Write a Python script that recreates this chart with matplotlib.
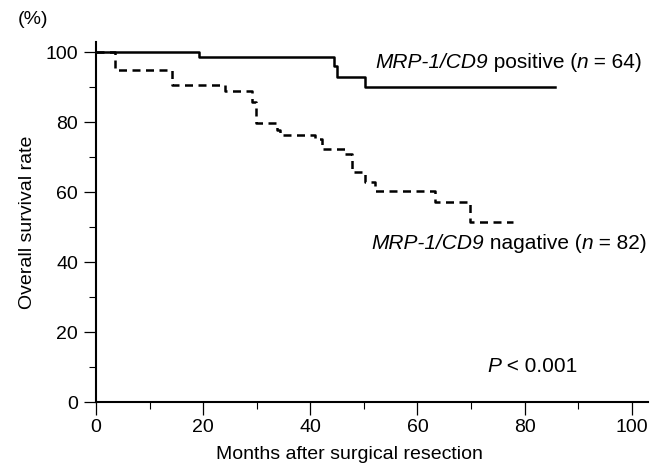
import matplotlib
matplotlib.use("Agg")
import matplotlib.pyplot as plt
from matplotlib.ticker import MultipleLocator
from matplotlib import font_manager as fm
from matplotlib.transforms import offset_copy

# --- data ---
pos_months = [0, 19.3, 44.4, 44.9, 50.3, 85.6]
pos_surv   = [100, 98.6, 96.0, 93.0, 90.0, 90.0]

neg_months = [0, 3.5, 14.1, 24.1, 29.2, 29.9, 33.7, 34.3, 40.9, 42.1,
              46.5, 47.7, 50.3, 52.0, 63.2, 69.9, 77.9]
neg_surv   = [100, 95.0, 90.5, 88.8, 85.8, 79.6, 77.7, 76.2, 75.2, 72.3,
              71.0, 65.8, 62.9, 60.4, 57.1, 51.5, 51.5]

x_ticks = [0, 20, 40, 60, 80, 100]
y_ticks = [0, 20, 40, 60, 80, 100]

names = {f.name for f in fm.fontManager.ttflist}
family = "Liberation Sans" if "Liberation Sans" in names else "DejaVu Sans"
plt.rcParams['font.family'] = [family, 'DejaVu Sans']

fig = plt.figure(figsize=(6.53, 4.67), dpi=100)
ax = fig.add_axes([0.147, 0.139, 0.845, 0.772])

ax.step(pos_months, pos_surv, where='post', color='black', lw=1.8)
ax.step(neg_months, neg_surv, where='post', color='black', lw=1.8,
        linestyle=(0, (3.2, 2.2)))

ax.set_xlim(0, 103)
ax.set_ylim(0, 103)
ax.set_xticks(x_ticks)
ax.set_yticks(y_ticks)
ax.xaxis.set_minor_locator(MultipleLocator(10))
ax.yaxis.set_minor_locator(MultipleLocator(10))
ax.tick_params(which='major', length=9, width=0.9, labelsize=14)
ax.tick_params(axis='x', which='major', pad=3)
ax.tick_params(axis='y', which='major', pad=4)
ax.tick_params(which='minor', length=5, width=0.8)
for s in ['top', 'right']:
    ax.spines[s].set_visible(False)
for s in ['left', 'bottom']:
    ax.spines[s].set_linewidth(1.5)

ax.set_xlabel("Months after surgical resection", fontsize=14)
ax.xaxis.set_label_coords(0.46, -0.122)
ax.set_ylabel("Overall survival rate", fontsize=14, labelpad=7)
fig.text(33/653, 1 - 20/467, "(%)", fontsize=14, ha='center', va='center')

fig.canvas.draw()
renderer = fig.canvas.get_renderer()

def rich(x_px, y_px, parts, size=15):
    """parts: list of (text, style). x_px,y_px in figure pixels from top-left."""
    trans = fig.transFigure
    x = x_px / 653
    y = 1 - y_px / 467
    offset = 0.0
    for txt, style in parts:
        t = fig.text(x, y, txt, fontsize=size, style=style, va='center', ha='left',
                     transform=offset_copy(trans, fig=fig, x=offset, y=0, units='dots'))
        bb = t.get_window_extent(renderer=renderer)
        offset += bb.width

rich(375, 62, [("MRP-1/CD9", 'italic'), (" positive (", 'normal'), ("n", 'italic'),
               (" = 64)", 'normal')])
rich(371, 244, [("MRP-1/CD9", 'italic'), (" nagative (", 'normal'), ("n", 'italic'),
                (" = 82)", 'normal')])
rich(487, 367, [("P", 'italic'), (" < 0.001", 'normal')])

fig.savefig("out.png", dpi=100)
